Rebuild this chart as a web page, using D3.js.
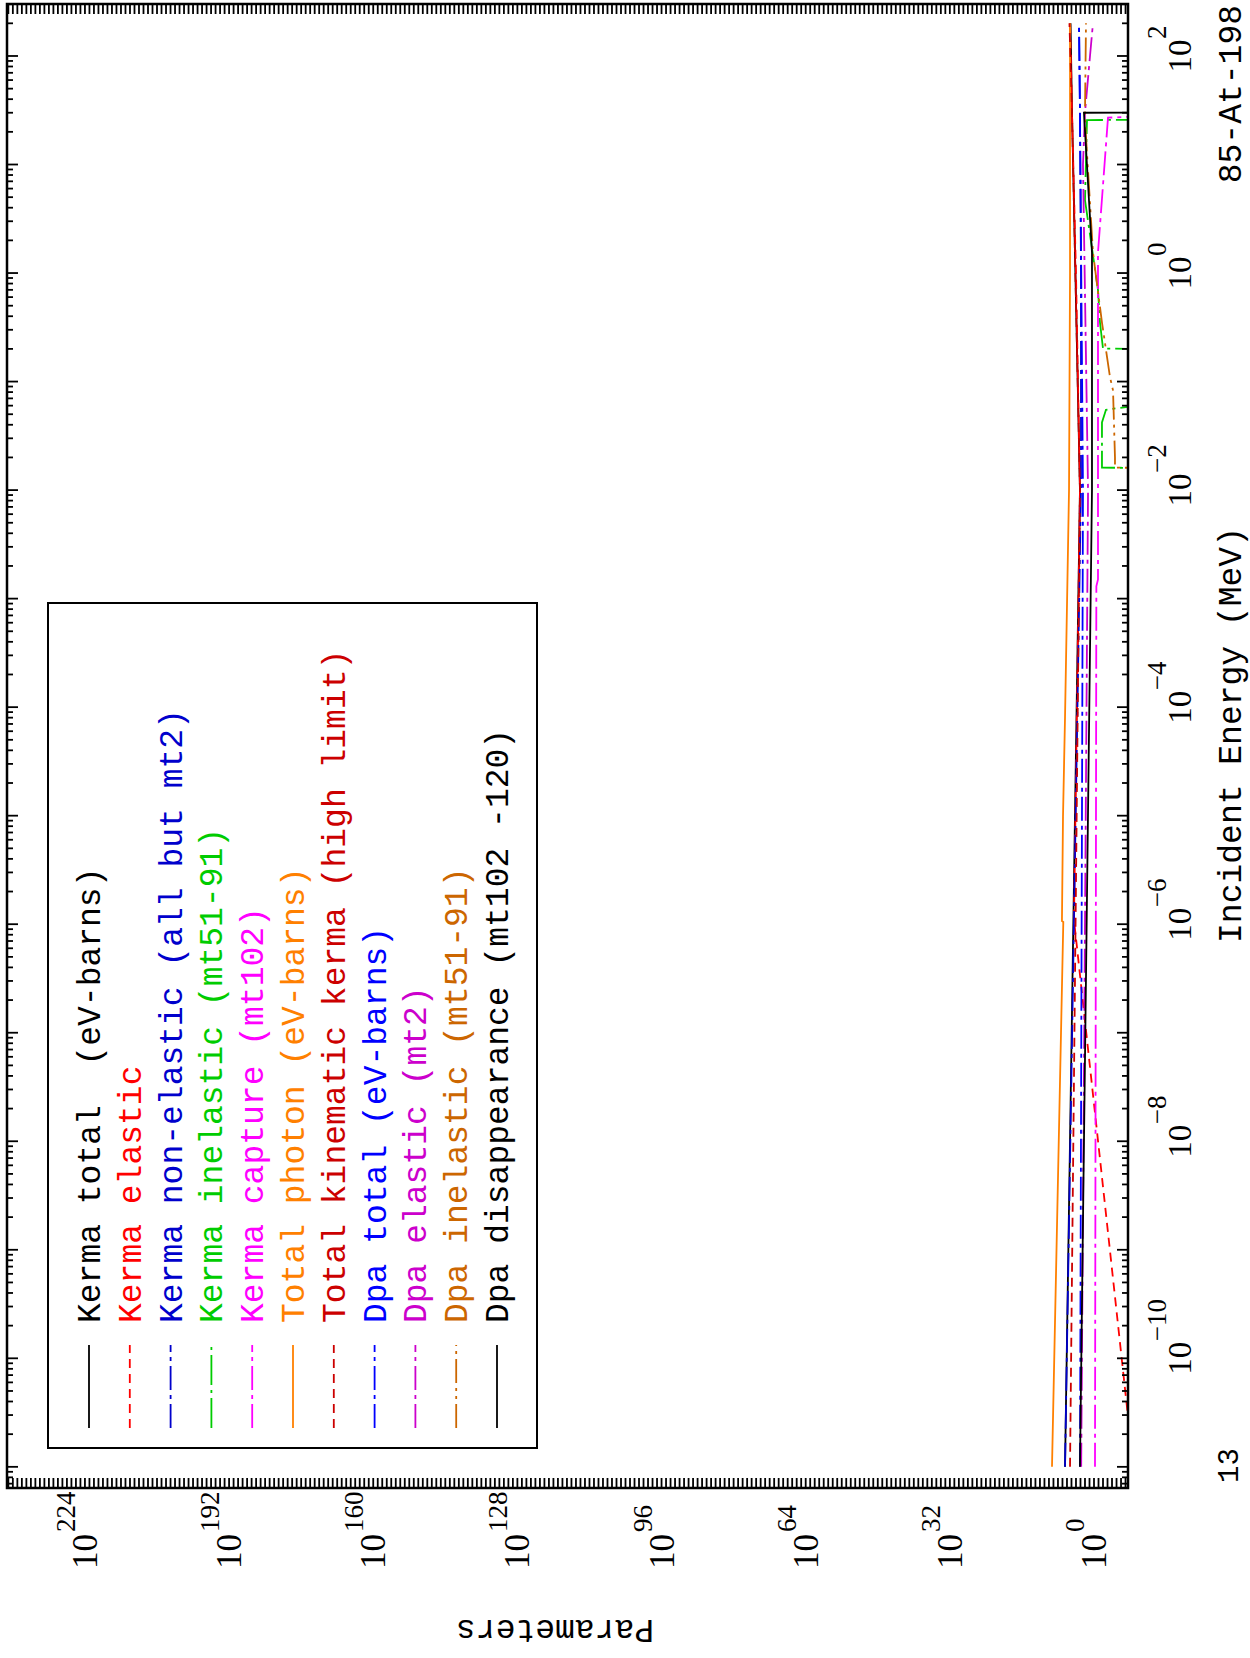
<!DOCTYPE html>
<html>
<head>
<meta charset="utf-8">
<script src="https://cdn.jsdelivr.net/npm/d3@7"></script>
<style>
  body { margin: 0; background: #fff; }
  text { font-family: "Liberation Mono", monospace; }
</style>
</head>
<body>
<svg id="chart" width="1250" height="1658"></svg>
<script>
// ---------------------------------------------------------------------------
// DATA  (energy in MeV, value in the plotted unit); 1e-12 = nothing / zero
// ---------------------------------------------------------------------------
const kermaTotal = [[1e-11, 2.7e6], [1e-2, 1.3e3], [30, 7.6e4], [200, 1.6e5]];
const kermaElastic = [[1e-11, 1e-12], [2.9e-11, 2.8e-8], [1.1e-6, 2.8e4], [1e-2, 1.3e3], [1, 1e4], [30, 7.6e4], [200, 2e5]];
const kermaNonElastic = [[1e-11, 2.7e6], [1e-2, 7.7e2], [1, 7.7e2], [30, 1.3e3], [200, 2.1e3]];
const kermaInelastic = [[1e-11, 1e-12], [1.6e-2, 1e-12], [1.61e-2, 0.017], [4.2e-2, 0.017], [5.5e-2, 2.2e-3],
  [6.2e-2, 1e-12], [0.2, 1e-12], [0.201, 0.01], [0.35, 0.047], [0.7, 0.13], [4.7, 100], [25.7, 36], [25.8, 1e-12], [200, 1e-12]];
const kermaCapture = [[1e-11, 0.6], [1.3e-3, 0.3], [1.5e-3, 0.13], [1.55, 0.13], [27, 7.8e-4], [28, 1e-12]];
const photonTotal = [[1e-11, 2.1e9], [1.05e-6, 6.5e6], [1.07e-6, 1.3e7], [9.8e-6, 7.6e6], [8.1e-5, 2.7e6], [1e-2, 3.5e5], [1, 2.1e5], [200, 2.1e5]];
const kinematicKerma = [[1e-11, 2.1e5], [1e-2, 1.3e3], [30, 7.6e4], [200, 2.8e5]];
const dpaTotal = [[1e-11, 1.3e3], [1e-2, 2.8e2], [30, 1.3e3], [200, 2.1e3]];
const dpaElastic = [[1e-11, 7e2], [1e-2, 21], [10, 2.8e2], [30, 100], [100, 7.7], [200, 1.7]];
const dpaInelastic = [[1e-11, 1e-12], [1.6e-2, 1e-12], [1.61e-2, 2.2e-5], [2e-2, 2.2e-5], [8.3e-2, 6e-5], [0.11, 2.8e-4],
  [0.35, 1.7e-2], [1.55, 1.7], [25.7, 100], [30, 100], [200, 60]];
const dpaDisappearance = [[1e-11, 1.3e3], [1e-2, 2.8], [1.55, 2.8], [30, 170], [30.1, 1e-12], [200, 1e-12]];

const seriesNames = [
  "Kerma total  (eV-barns)", "Kerma elastic", "Kerma non-elastic (all but mt2)",
  "Kerma inelastic (mt51-91)", "Kerma capture (mt102)", "Total photon (eV-barns)",
  "Total kinematic kerma (high limit)", "Dpa total (eV-barns)", "Dpa elastic (mt2)",
  "Dpa inelastic (mt51-91)", "Dpa disappearance (mt102 -120)"
];
const seriesData = [kermaTotal, kermaElastic, kermaNonElastic, kermaInelastic, kermaCapture,
  photonTotal, kinematicKerma, dpaTotal, dpaElastic, dpaInelastic, dpaDisappearance];
const seriesColor = ["#000000", "#ff0000", "#0000cc", "#00cc00", "#ff00ff",
  "#ff8000", "#cc0000", "#0000ff", "#cc00cc", "#cc6600", "#000000"];
const seriesDash = [null, "9,6", "24,5,4,5", "30,5,3,5", "24,5,4,5",
  null, "9,6", "24,5,4,5", "24,5,4,5", "24,5,3,5,3,5", null];

const energyLabelExp = [-10, -8, -6, -4, -2, 0, 2];
const paramLabelExp = [0, 32, 64, 96, 128, 160, 192, 224];

// ---------------------------------------------------------------------------
// SETUP  (drawn landscape, then turned a quarter turn counter-clockwise)
// ---------------------------------------------------------------------------
const W = 1658, H = 1250;
const frame = { left: 170, right: 1654, top: 7, bottom: 1128 };

const svg = d3.select("#chart");
const g = svg.append("g").attr("transform", `translate(0,${W}) rotate(-90)`);

const x = d3.scaleLog()
  .domain([Math.pow(10, -11.195), Math.pow(10, 2.479)])
  .range([frame.left, frame.right]);
const y = d3.scaleLog()
  .domain([Math.pow(10, -7.77), Math.pow(10, 241.3)])
  .range([1129, frame.top]);

g.append("clipPath").attr("id", "plotClip")
  .append("rect")
  .attr("x", frame.left).attr("y", frame.top)
  .attr("width", frame.right - frame.left).attr("height", frame.bottom - frame.top);

// ---------------------------------------------------------------------------
// LINES
// ---------------------------------------------------------------------------
const line = d3.line().x(d => x(d[0])).y(d => y(d[1]));
const lines = g.append("g").attr("clip-path", "url(#plotClip)");
seriesData.forEach((data, i) => {
  lines.append("path")
    .datum(data)
    .attr("d", line)
    .attr("fill", "none")
    .attr("stroke", seriesColor[i])
    .attr("stroke-width", 1.8)
    .attr("stroke-dasharray", seriesDash[i]);
});

// ---------------------------------------------------------------------------
// FRAME + TICKS
// ---------------------------------------------------------------------------
const ticks = g.append("g").attr("stroke", "#000").attr("stroke-width", 1.8);

// energy decades + minors on both long sides
d3.range(-12, 3).forEach(d => {
  d3.range(1, 10).forEach(k => {
    const v = k * Math.pow(10, d);
    const [lo, hi] = x.domain();
    if (v < lo || v > hi) return;
    const len = k === 1 ? 11 : 6;
    const px = x(v);
    ticks.append("line").attr("x1", px).attr("x2", px).attr("y1", frame.top).attr("y2", frame.top + len);
    ticks.append("line").attr("x1", px).attr("x2", px).attr("y1", frame.bottom).attr("y2", frame.bottom - len);
  });
});

// parameter decades on both short sides
d3.range(-7, 242).forEach(d => {
  const py = y(Math.pow(10, d));
  ticks.append("line").attr("x1", frame.left).attr("x2", frame.left + 10).attr("y1", py).attr("y2", py);
  ticks.append("line").attr("x1", frame.right).attr("x2", frame.right - 10).attr("y1", py).attr("y2", py);
});

g.append("rect")
  .attr("x", frame.left).attr("y", frame.top)
  .attr("width", frame.right - frame.left).attr("height", frame.bottom - frame.top)
  .attr("fill", "none").attr("stroke", "#000").attr("stroke-width", 2.5);

// ---------------------------------------------------------------------------
// TICK LABELS
// ---------------------------------------------------------------------------
energyLabelExp.forEach(e => {
  const px = x(Math.pow(10, e));
  g.append("text").attr("x", px).attr("y", 1191)
    .attr("text-anchor", "middle")
    .style("font-family", "Liberation Serif").attr("font-size", 33)
    .text("10");
  g.append("text").attr("x", px + 17).attr("y", 1166)
    .style("font-family", "Liberation Serif").attr("font-size", 27)
    .text(e < 0 ? "\u2212" + (-e) : String(e));
});

paramLabelExp.forEach(e => {
  const py = y(Math.pow(10, e));
  g.append("text").attr("x", 124).attr("y", py + 12)
    .attr("text-anchor", "end")
    .style("font-family", "Liberation Serif").attr("font-size", 35)
    .text("10");
  g.append("text").attr("x", 126).attr("y", py - 10)
    .style("font-family", "Liberation Serif").attr("font-size", 27)
    .text(String(e));
});

// ---------------------------------------------------------------------------
// AXIS TITLES
// ---------------------------------------------------------------------------
g.append("text").attr("x", 923).attr("y", 1241)
  .attr("text-anchor", "middle").attr("font-size", 33)
  .text("Incident Energy (MeV)");
g.append("text").attr("x", 1653).attr("y", 1241)
  .attr("text-anchor", "end").attr("font-size", 33)
  .text("85-At-198");
g.append("text").attr("x", 175).attr("y", 1238)
  .attr("font-size", 29)
  .text("13");
g.append("text")
  .attr("transform", "translate(38,555) rotate(-90)")
  .attr("text-anchor", "middle").attr("font-size", 33)
  .text("Parameters");

// ---------------------------------------------------------------------------
// LEGEND
// ---------------------------------------------------------------------------
const legend = g.append("g");
legend.append("rect")
  .attr("x", 210).attr("y", 48).attr("width", 845).attr("height", 489)
  .attr("fill", "#fff").attr("stroke", "#000").attr("stroke-width", 2);
seriesNames.forEach((name, i) => {
  const ly = 89 + i * 40.8;
  legend.append("line")
    .attr("x1", 230).attr("x2", 313).attr("y1", ly).attr("y2", ly)
    .attr("stroke", seriesColor[i]).attr("stroke-width", 1.8)
    .attr("stroke-dasharray", seriesDash[i]);
  legend.append("text")
    .attr("x", 335).attr("y", ly + 11)
    .attr("font-size", 33)
    .attr("fill", seriesColor[i])
    .attr("xml:space", "preserve")
    .style("white-space", "pre")
    .text(name);
});
</script>
</body>
</html>
